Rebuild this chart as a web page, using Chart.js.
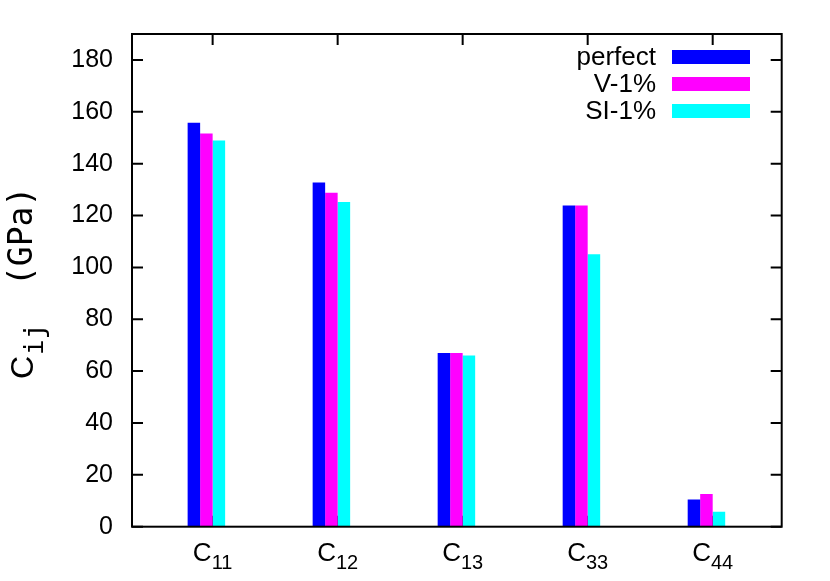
<!DOCTYPE html>
<html>
<head>
<meta charset="utf-8">
<script src="https://cdn.jsdelivr.net/npm/chart.js@4/dist/chart.umd.min.js"></script>
<style>
  html, body { margin: 0; padding: 0; background: #ffffff; }
  #wrap { width: 830px; height: 581px; }
</style>
</head>
<body>
<div id="wrap"><canvas id="c" width="830" height="581"></canvas></div>
<script>
// ---- data ----
const categories = ['C11', 'C12', 'C13', 'C33', 'C44'];
const seriesNames = ['perfect', 'V-1%', 'SI-1%'];
const perfectValues = [155.8, 132.7, 67.0, 123.9, 10.5];
const v1Values = [151.6, 128.8, 67.0, 123.9, 12.6];
const si1Values = [148.9, 125.2, 66.0, 105.1, 5.8];
const yTicks = [0, 20, 40, 60, 80, 100, 120, 140, 160, 180];
const yLabelMain = 'C';
const yLabelSub = 'ij';
const yLabelUnit = '(GPa)';

const colors = ['#0000ff', '#ff00ff', '#00ffff'];
const SANS = '"Liberation Sans", Arial, Helvetica, sans-serif';
const MONO = '"DejaVu Sans Mono", monospace';

function toPoints(vals) { return vals.map((v, i) => ({ x: i, y: v })); }

const seriesValues = [perfectValues, v1Values, si1Values];
const datasets = seriesNames.map((name, k) => ({
  label: name,
  data: toPoints(seriesValues[k]),
  backgroundColor: colors[k],
  borderWidth: 0
}));
// empty slot so the group sits like gnuplot's clustered histogram (gap of one bar)
datasets.push({ label: '', data: [], backgroundColor: 'rgba(0,0,0,0)', borderWidth: 0 });

const TICK = 11;

const framePlugin = {
  id: 'frame',
  beforeDatasetsDraw(chart) {
    const { ctx, chartArea: a, scales } = chart;
    ctx.save();
    ctx.strokeStyle = '#000';
    ctx.lineWidth = 2;
    ctx.beginPath();
    // bottom x ticks (behind bars)
    categories.forEach((c, i) => {
      const px = scales.x.getPixelForValue(i);
      ctx.moveTo(px, a.bottom); ctx.lineTo(px, a.bottom - TICK);
    });
    ctx.stroke();
    ctx.restore();
  },
  afterDatasetsDraw(chart) {
    const { ctx, chartArea: a, scales } = chart;
    ctx.save();
    ctx.strokeStyle = '#000';
    ctx.lineWidth = 2;
    ctx.beginPath();
    // top mirrored x ticks
    categories.forEach((c, i) => {
      const px = scales.x.getPixelForValue(i);
      ctx.moveTo(px, a.top); ctx.lineTo(px, a.top + TICK);
    });
    // y ticks left and right
    yTicks.forEach(v => {
      const py = scales.y.getPixelForValue(v);
      ctx.moveTo(a.left, py); ctx.lineTo(a.left + TICK, py);
      ctx.moveTo(a.right, py); ctx.lineTo(a.right - TICK, py);
    });
    ctx.stroke();
    ctx.strokeRect(a.left, a.top, a.right - a.left, a.bottom - a.top);

    // x category labels with subscripts
    ctx.fillStyle = '#000';
    ctx.textBaseline = 'alphabetic';
    categories.forEach((c, i) => {
      const px = scales.x.getPixelForValue(i);
      const base = c.charAt(0), sub = c.slice(1);
      ctx.font = '26px ' + SANS;
      const wb = ctx.measureText(base).width;
      ctx.font = '20px ' + SANS;
      const ws = ctx.measureText(sub).width;
      const x0 = px - (wb + ws) / 2;
      ctx.textAlign = 'left';
      ctx.font = '26px ' + SANS;
      ctx.fillText(base, x0, 561);
      ctx.font = '20px ' + SANS;
      ctx.fillText(sub, x0 + wb, 568.5);
    });

    // legend (text right, sample to the right)
    const rows = [57, 84, 111];
    chart.data.datasets.slice(0, seriesNames.length).forEach((ds, k) => {
      const cy = rows[k];
      ctx.font = '26px ' + SANS;
      ctx.textAlign = 'right';
      ctx.textBaseline = 'middle';
      ctx.fillStyle = '#000';
      ctx.fillText(ds.label, 656, cy + 1);
      ctx.fillStyle = ds.backgroundColor;
      ctx.fillRect(672, cy - 7, 78, 14);
    });

    // y axis title (rotated)
    ctx.translate(33, 379);
    ctx.rotate(-Math.PI / 2);
    ctx.textAlign = 'left';
    ctx.textBaseline = 'alphabetic';
    ctx.fillStyle = '#000';
    ctx.font = '32px ' + SANS;
    ctx.fillText(yLabelMain, 0, 0);
    const x = ctx.measureText(yLabelMain).width;
    ctx.font = '26px ' + MONO;
    ctx.fillText(yLabelSub, x + 1, 10);
    ctx.font = '33px ' + MONO;
    ctx.fillText(yLabelUnit, 93, -1);
    ctx.restore();
  }
};

new Chart(document.getElementById('c'), {
  type: 'bar',
  data: { datasets },
  options: {
    responsive: false,
    animation: false,
    devicePixelRatio: 1,
    layout: { padding: { left: 0, right: 48.3, top: 31.7, bottom: 0 } },
    plugins: { legend: { display: false }, tooltip: { enabled: false } },
    datasets: { bar: { categoryPercentage: 0.4, barPercentage: 1.0 } },
    scales: {
      x: {
        type: 'linear',
        min: -0.645,
        max: 4.552,
        offset: false,
        grid: { display: false, drawTicks: false },
        border: { display: false },
        ticks: { display: false },
        afterBuildTicks(scale) { scale.ticks = categories.map((c, i) => ({ value: i })); },
        afterFit(scale) { scale.height = 54.3; }
      },
      y: {
        min: 0,
        max: 190,
        grid: { display: false, drawTicks: false },
        border: { display: false },
        ticks: {
          padding: 19,
          color: '#000',
          font: { family: SANS, size: 25 }
        },
        afterBuildTicks(scale) { scale.ticks = yTicks.map(v => ({ value: v })); },
        afterFit(scale) { scale.width = 132; }
      }
    }
  },
  plugins: [framePlugin]
});
</script>
</body>
</html>
